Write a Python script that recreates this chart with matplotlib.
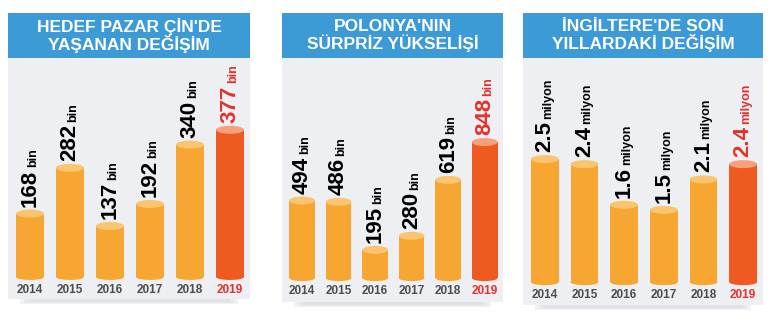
import matplotlib
matplotlib.use("Agg")
import matplotlib.pyplot as plt
from matplotlib.patches import Ellipse, Rectangle

years = ["2014", "2015", "2016", "2017", "2018", "2019"]

china_title = "HEDEF PAZAR ÇİN'DE\nYAŞANAN DEĞİŞİM"
china_values = [168, 282, 137, 192, 340, 377]
china_labels = ["168", "282", "137", "192", "340", "377"]
china_unit = "bin"

poland_title = "POLONYA'NIN\nSÜRPRİZ YÜKSELİŞİ"
poland_values = [494, 486, 195, 280, 619, 848]
poland_labels = ["494", "486", "195", "280", "619", "848"]
poland_unit = "bin"

uk_title = "İNGİLTERE'DE SON\nYILLARDAKİ DEĞİŞİM"
uk_values = [2.5, 2.4, 1.6, 1.5, 2.1, 2.4]
uk_labels = ["2.5", "2.4", "1.6", "1.5", "2.1", "2.4"]
uk_unit = "milyon"

W, H = 775, 323
DPI = 100
BAR = "#F7A632"
BAR_CAP = "#FAC56E"
HL = "#EE5A20"
HL_CAP = "#F6A07C"
TITLE_BG = "#3C9AD6"
PANEL_BG = "#EDEFF2"
YEAR_C = "#4D4D4D"
RED = "#E5302B"
FONT = ["Liberation Sans Narrow", "Liberation Sans", "DejaVu Sans"]
FONT2 = ["Liberation Sans", "DejaVu Sans"]

fig = plt.figure(figsize=(W / DPI, H / DPI), dpi=DPI)
fig.patch.set_facecolor("white")

# (left px, right px, title top, title bottom, panel bottom, baseline px, ylim)
panels = [
    (china_title, china_values, china_labels, china_unit, 8, 250, 13, 58, 299, 278, (-55, 546)),
    (poland_title, poland_values, poland_labels, poland_unit, 282, 503, 13, 58, 302, 278, (-145, 1333)),
    (uk_title, uk_values, uk_labels, uk_unit, 523, 763, 13, 58, 305, 282, (-0.45, 4.41)),
]

renderer = fig.canvas.get_renderer()
for title, vals, labs, unit, lx, rx, tt, tb, pb, base, ylim in panels:
    # title box
    tax = fig.add_axes([lx / W, 1 - tb / H, (rx - lx) / W, (tb - tt) / H])
    tax.set_facecolor(TITLE_BG)
    tax.set_xticks([]); tax.set_yticks([])
    for s in tax.spines.values():
        s.set_visible(False)
    tax.text(0.5, 0.5, title, ha="center", va="center", color="white",
             fontsize=12.5, fontweight="bold", family=FONT2, linespacing=1.05,
             transform=tax.transAxes)
    # soft shadow
    for k, c in enumerate(["#F1F2F4", "#E8E9EC", "#E1E2E5"]):
        fig.patches.append(Rectangle(((lx + 12 + 4 * k) / W, 1 - (pb + 5 - k) / H),
                                     (rx - lx - 24 - 8 * k) / W, (5 - k) / H,
                                     transform=fig.transFigure, facecolor=c,
                                     edgecolor="none", zorder=0))
    ax = fig.add_axes([lx / W, 1 - pb / H, (rx - lx) / W, (pb - tb) / H])
    ax.set_facecolor(PANEL_BG)
    ax.set_xlim(-0.55, 5.5)
    ax.set_ylim(*ylim)
    ax.set_xticks([]); ax.set_yticks([])
    for s in ax.spines.values():
        s.set_visible(False)
    px_per_unit = (pb - tb) / (ylim[1] - ylim[0])
    cap_h = 8 / px_per_unit
    bw = 0.7
    n = len(vals)
    for i, v in enumerate(vals):
        last = i == n - 1
        col = HL if last else BAR
        capc = HL_CAP if last else BAR_CAP
        top = v - cap_h / 2
        ax.bar(i, top, width=bw, color=col, zorder=2)
        ax.add_patch(Ellipse((i, 0), bw, 6 / px_per_unit, facecolor=col, edgecolor="none", zorder=2))
        ax.add_patch(Ellipse((i, top), bw, cap_h, facecolor=capc, edgecolor="none", zorder=3))
        tcol = RED if last else "black"
        t = ax.annotate(labs[i], (i, v), xytext=(0, 3), textcoords="offset pixels",
                        rotation=90, ha="center", va="bottom", fontsize=16,
                        fontweight="bold", family=FONT, color=tcol, zorder=4)
        ext = t.get_window_extent(renderer)
        ax.annotate(unit, (i, v), xytext=(3, 3 + ext.height + 2), textcoords="offset pixels",
                    rotation=90, ha="center", va="bottom", fontsize=9,
                    fontweight="bold", family=FONT, color=tcol, zorder=4)
        ax.annotate(years[i], (i, 0), xytext=(0, -13), textcoords="offset pixels",
                    ha="center", va="center", fontsize=8.5, fontweight="bold",
                    family=FONT2, color=RED if last else YEAR_C)

fig.savefig("out.png", dpi=DPI, facecolor="white")
